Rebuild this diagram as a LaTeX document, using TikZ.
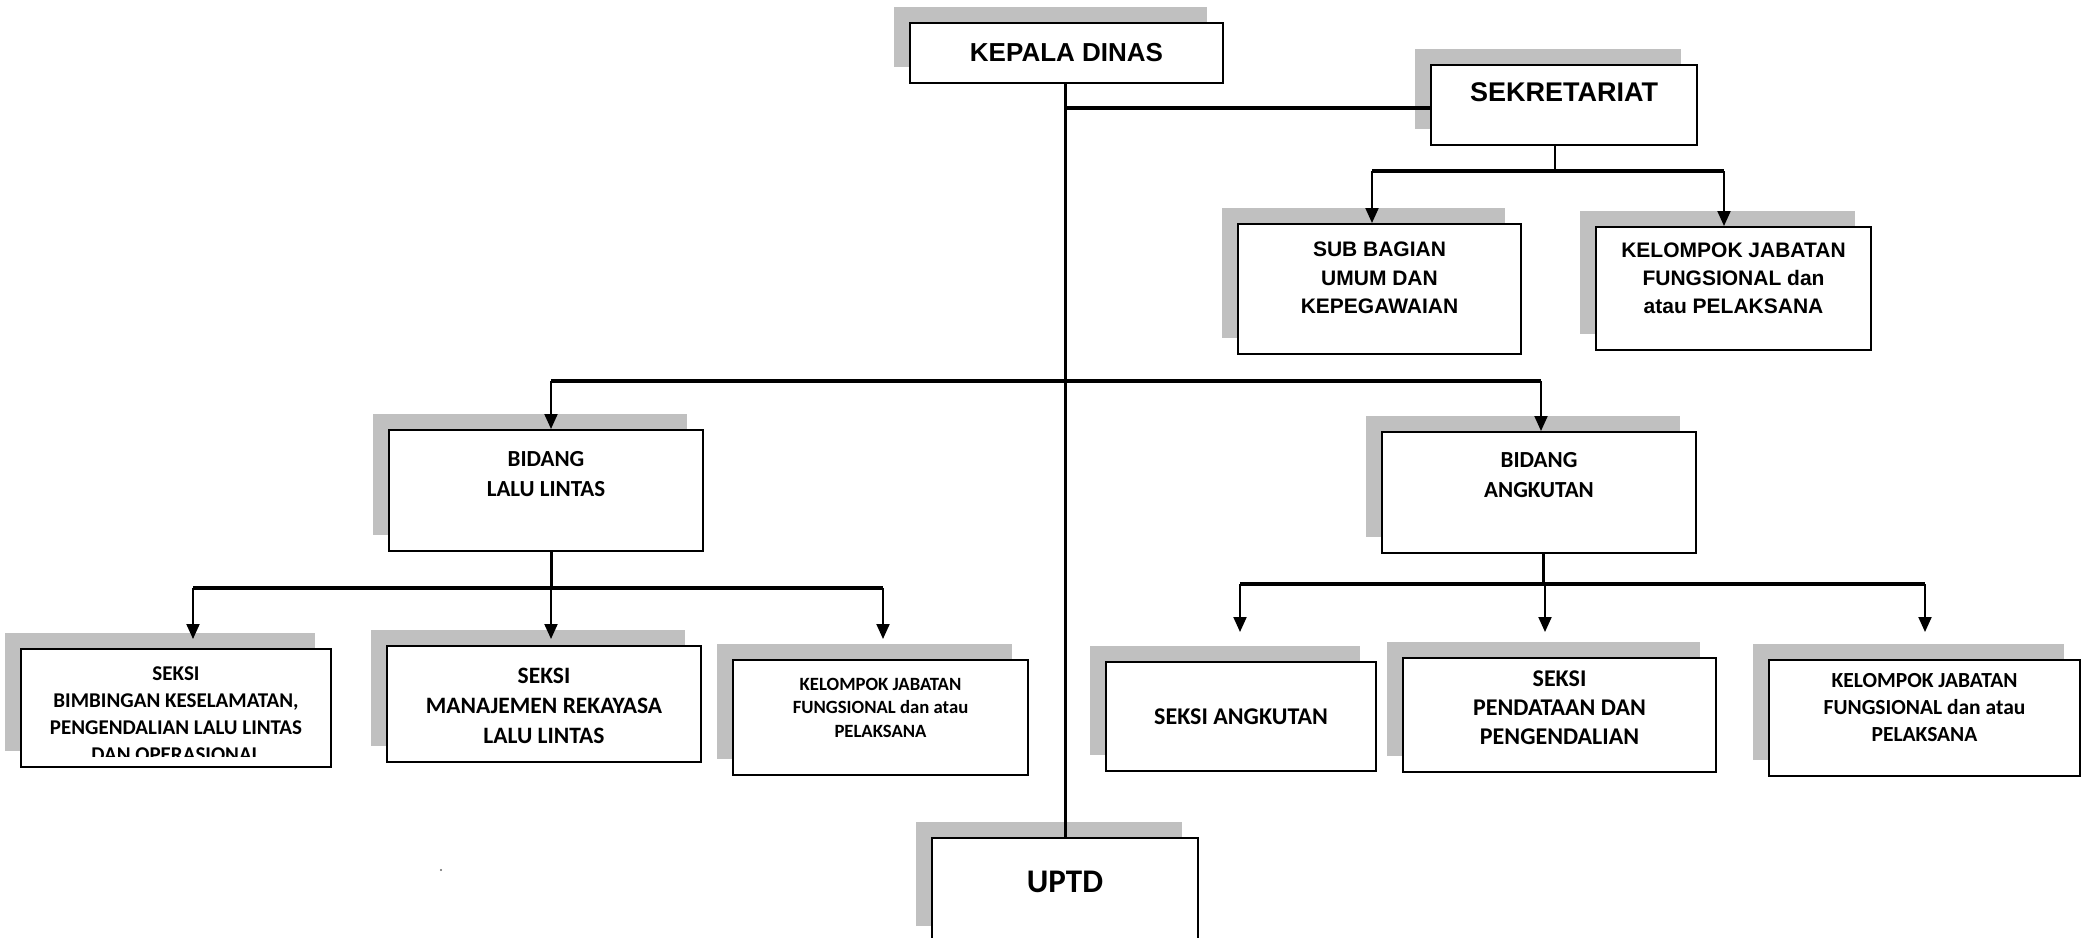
\documentclass[tikz,border=0pt]{standalone}
\usepackage{fontspec}
\newfontfamily\arialf{Liberation Sans}
\newfontfamily\calf{Carlito}
\usetikzlibrary{arrows.meta,shadows}
\definecolor{shd}{RGB}{192,192,192}
\begin{document}
\begin{tikzpicture}[x=1pt,y=-1pt,
  box/.style={draw=black, line width=2pt, fill=white, inner sep=0pt,
    drop shadow={shadow xshift=-16.5pt, shadow yshift=16.5pt, fill=shd, opacity=1}},
  txt/.style={inner sep=0pt, align=center, anchor=north},
  fa/.style={font=\arialf\bfseries\fontsize{#1}{#1}\selectfont},
  hline/.style={line width=4.5pt},
  vmain/.style={line width=3pt},
  stub/.style={line width=3pt},
  thinstub/.style={line width=2pt},
  arr/.style={line width=2pt, -{Triangle[length=15pt,width=13pt]}}]
\useasboundingbox (0,0) rectangle (2082,937);

% ---- boxes ----
\node[box, minimum width=313pt, minimum height=60pt,
  font=\arialf\bfseries\fontsize{26}{30}\selectfont] (kepala) at (1066.5,53) {KEPALA DINAS};
\node[box, minimum width=266pt, minimum height=80pt] (sek) at (1564,105) {};
\node[box, minimum width=283pt, minimum height=130pt] (sub) at (1379.5,289) {};
\node[box, minimum width=275pt, minimum height=123pt] (kela) at (1733.5,288.5) {};
\node[box, minimum width=314pt, minimum height=121pt] (bidll) at (546,490.5) {};
\node[box, minimum width=314pt, minimum height=121pt] (bidang) at (1539,492.5) {};
\node[box, minimum width=310pt, minimum height=118pt] (bim) at (176,708) {};
\node[box, minimum width=314pt, minimum height=116pt] (man) at (544,704) {};
\node[box, minimum width=295pt, minimum height=115pt] (kelb) at (880.5,717.5) {};
\node[box, minimum width=270pt, minimum height=109pt,
  font=\calf\bfseries\fontsize{24}{29}\selectfont] (sang) at (1241,716.5) {SEKSI ANGKUTAN};
\node[box, minimum width=313pt, minimum height=114pt] (pend) at (1559.5,715) {};
\node[box, minimum width=311pt, minimum height=116pt] (kelc) at (1924.5,718) {};
\node[box, minimum width=266pt, minimum height=104pt] (uptd) at (1065,890) {};

% ---- texts ----
\node[txt, font=\arialf\bfseries\fontsize{27}{30}\selectfont] (tsek) at (1564,82) {SEKRETARIAT};
\node[txt, font=\arialf\bfseries\fontsize{21}{28.5}\selectfont] (tsub) at (1379.5,242)
  {SUB BAGIAN\\UMUM DAN\\KEPEGAWAIAN};
\node[txt, font=\arialf\bfseries\fontsize{21}{28}\selectfont] (tkela) at (1733.5,243)
  {KELOMPOK JABATAN\\FUNGSIONAL dan\\atau PELAKSANA};
\node[txt, font=\calf\bfseries\fontsize{23}{30}\selectfont] (tbidll) at (546,451)
  {BIDANG\\LALU LINTAS};
\node[txt, font=\calf\bfseries\fontsize{23}{30}\selectfont] (tbidang) at (1539,452)
  {BIDANG\\ANGKUTAN};
\begin{scope}
  \clip (21,649) rectangle (331,756);
  \node[txt, font=\calf\bfseries\fontsize{21}{27}\selectfont] (tbim) at (176,667)
    {SEKSI\\BIMBINGAN KESELAMATAN,\\PENGENDALIAN LALU LINTAS\\DAN OPERASIONAL};
\end{scope}
\node[txt, font=\calf\bfseries\fontsize{23.5}{30}\selectfont] (tman) at (544,668)
  {SEKSI\\MANAJEMEN REKAYASA\\LALU LINTAS};
\node[txt, font=\calf\bfseries\fontsize{18.7}{23.5}\selectfont] (tkelb) at (880.5,678)
  {KELOMPOK JABATAN\\FUNGSIONAL dan atau\\PELAKSANA};
\node[txt, font=\calf\bfseries\fontsize{24}{29}\selectfont] (tpend) at (1559.5,671)
  {SEKSI\\PENDATAAN DAN\\PENGENDALIAN};
\node[txt, font=\calf\bfseries\fontsize{21.5}{27}\selectfont] (tkelc) at (1924.5,673)
  {KELOMPOK JABATAN\\FUNGSIONAL dan atau\\PELAKSANA};
\node[txt, font=\calf\bfseries\fontsize{33}{36}\selectfont] (tuptd) at (1065,871) {UPTD};

% ---- junction coordinates ----
\coordinate (jsek) at (1065,108);
\coordinate (sekdrop) at (1555,171);
\coordinate (asub) at (1372,171);
\coordinate (akela) at (1724,171);
\coordinate (abidll) at (551,381);
\coordinate (abidang) at (1541,381);
\coordinate (lldrop) at (551,588);
\coordinate (abim) at (193,588);
\coordinate (aman) at (551,588);
\coordinate (akelb) at (883,588);
\coordinate (tipl) at (0,639);
\coordinate (angdrop) at (1543,584);
\coordinate (asang) at (1240,584);
\coordinate (apend) at (1545,584);
\coordinate (akelc) at (1925,584);
\coordinate (tipr) at (0,632);

% ---- connectors ----
\draw[vmain] (kepala.south -| uptd.north) -- (uptd.north);
\draw[hline] (jsek) -- (jsek -| sek.west);
\draw[thinstub] (sek.south -| sekdrop) -- (sekdrop);
\draw[hline] (asub) -- (akela);
\draw[arr] (asub) -- (asub |- sub.north);
\draw[arr] (akela) -- (akela |- kela.north);
\draw[hline] (abidll) -- (abidang);
\draw[arr] (abidll) -- (abidll |- bidll.north);
\draw[arr] (abidang) -- (abidang |- bidang.north);
\draw[stub] (bidll.south -| lldrop) -- (lldrop);
\draw[hline] (abim) -- (akelb);
\draw[arr] (abim) -- (abim |- tipl);
\draw[arr] (aman) -- (aman |- tipl);
\draw[arr] (akelb) -- (akelb |- tipl);
\draw[stub] (bidang.south -| angdrop) -- (angdrop);
\draw[hline] (asang) -- (akelc);
\draw[arr] (asang) -- (asang |- tipr);
\draw[arr] (apend) -- (apend |- tipr);
\draw[arr] (akelc) -- (akelc |- tipr);

% stray mark
\fill[black!60] (441,870) circle (1.2pt);
\end{tikzpicture}
\end{document}
